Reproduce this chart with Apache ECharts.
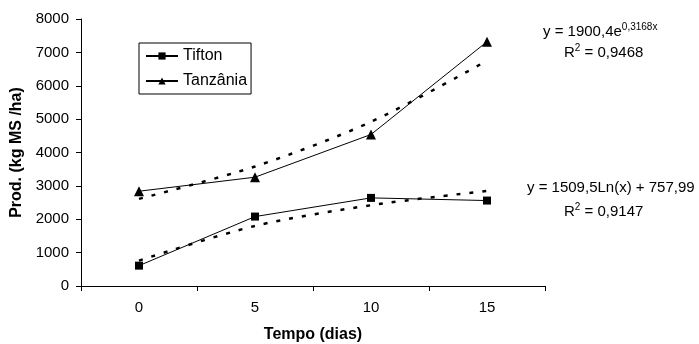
<!DOCTYPE html>
<html><head><meta charset="utf-8">
<script src="https://cdn.jsdelivr.net/npm/echarts@6/dist/echarts.min.js"></script>
<style>html,body{margin:0;padding:0;background:#fff}#c{width:699px;height:344px}</style>
</head><body><div id="c"></div>
<script>
var categories = ['0', '5', '10', '15'];
var tifton = [610, 2080, 2640, 2560];
var tanzania = [2840, 3260, 4540, 7320];
var tiftonTrend = [760, 1800, 2420, 2850];
var tanzaniaTrend = [2610, 3580, 4920, 6750];
var yTicks = [0, 1000, 2000, 3000, 4000, 5000, 6000, 7000, 8000];

var F = 'Liberation Sans, Arial, sans-serif';
var chart = echarts.init(document.getElementById('c'));
var sup = {fontFamily: F, fontSize: 10, fill: '#000', padding: [0, 0, 9, 0]};
var nrm = {fontFamily: F, fontSize: 15, fill: '#000'};
chart.setOption({
  animation: false,
  backgroundColor: '#fff',
  textStyle: {fontFamily: F},
  grid: {left: 81, right: 154, top: 19, bottom: 58, containLabel: false, outerBoundsMode: 'none'},
  legend: {
    data: ['Tifton', 'Tanzânia'],
    orient: 'vertical', left: 139, top: 43,
    padding: [5, 4, 5, 6], itemGap: 9,
    borderColor: '#000', borderWidth: 1,
    itemWidth: 32, itemHeight: 9,
    textStyle: {fontFamily: F, fontSize: 16, color: '#000'}
  },
  xAxis: {
    type: 'category', data: categories, boundaryGap: true,
    name: 'Tempo (dias)', nameLocation: 'middle', nameGap: 41,
    nameTextStyle: {fontFamily: F, fontSize: 16, fontWeight: 'bold', color: '#000'},
    axisLine: {lineStyle: {color: '#000', width: 1}},
    axisTick: {show: true, alignWithLabel: false, length: 5, lineStyle: {color: '#000'}},
    axisLabel: {fontFamily: F, fontSize: 15, color: '#000', margin: 14}
  },
  yAxis: {
    type: 'value', min: yTicks[0], max: yTicks[yTicks.length - 1], interval: 1000,
    name: 'Prod. (kg MS /ha)', nameLocation: 'middle', nameGap: 53,
    nameTextStyle: {fontFamily: F, fontSize: 16, fontWeight: 'bold', color: '#000'},
    axisLine: {show: true, lineStyle: {color: '#000', width: 1}},
    axisTick: {show: true, length: 5, lineStyle: {color: '#000'}},
    splitLine: {show: false},
    axisLabel: {fontFamily: F, fontSize: 15, color: '#000', margin: 12,
      formatter: function (v) { return String(v); }}
  },
  series: [
    {name: 'Tifton', type: 'line', data: tifton, symbol: 'rect', symbolSize: 8,
     itemStyle: {color: '#000'}, lineStyle: {color: '#000', width: 1}, z: 3},
    {name: 'Tanzânia', type: 'line', data: tanzania, symbol: 'triangle', symbolSize: 10,
     itemStyle: {color: '#000'}, lineStyle: {color: '#000', width: 1}, z: 3},
    {name: 'trendTifton', type: 'line', data: tiftonTrend, symbol: 'none', smooth: 0.3,
     lineStyle: {color: '#000', width: 2.5, type: [4, 9]}, z: 2},
    {name: 'trendTanzania', type: 'line', data: tanzaniaTrend, symbol: 'none', smooth: 0.3,
     lineStyle: {color: '#000', width: 2.5, type: [4, 9]}, z: 2}
  ],
  graphic: [
    {type: 'text', left: 543, top: 22, style: {rich: {n: nrm, s: sup},
      text: '{n|y = 1900,4e}{s|0,3168x}'}},
    {type: 'text', left: 564, top: 43, style: {rich: {n: nrm, s: sup},
      text: '{n|R}{s|2}{n| = 0,9468}'}},
    {type: 'text', left: 527, top: 180, style: {rich: {n: nrm, s: sup},
      text: '{n|y = 1509,5Ln(x) + 757,99}'}},
    {type: 'text', left: 564, top: 202, style: {rich: {n: nrm, s: sup},
      text: '{n|R}{s|2}{n| = 0,9147}'}}
  ]
});
</script></body></html>
